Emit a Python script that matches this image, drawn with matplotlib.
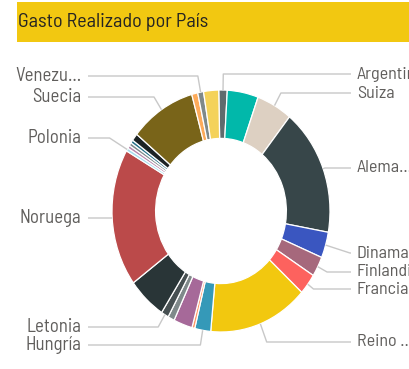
import matplotlib
matplotlib.use("Agg")
import numpy as np
import matplotlib.pyplot as plt

# Gasto por país (miles de €), en el orden en que se dibujan las porciones
paises = ['Argentina', 'Bélgica', 'Suiza', 'Alemania', 'Dinamarca', 'Finlandia',
          'Francia', 'Reino Unido', 'Hungría', 'Irlanda', 'Italia', 'Lituania',
          'Letonia', 'Luxemburgo', 'Noruega', 'Polonia', 'Portugal', 'Rumanía',
          'Eslovaquia', 'Eslovenia', 'Suecia', 'Austria', 'Venezuela', 'Chile']
gasto = [45, 165, 190, 610, 124, 96,
         100, 530, 85, 15, 100, 35,
         40, 205, 660, 15, 15, 15,
         15, 35, 350, 32, 31, 80]
colores = ['#5F6B6D', '#01B8AA', '#DDD0C2', '#374649', '#3A56C0', '#A6687C',
           '#FD625E', '#F2C80F', '#3599B8', '#FE9666', '#A66999', '#7F898A',
           '#475052', '#293537', '#BB4A4A', '#A4DDEE', '#B687AC', '#7F898A',
           '#28738A', '#1C2325', '#796419', '#FDAB5A', '#7F898A', '#F4D25A']

# etiquetas visibles: índice de porción -> (texto, lado, y de la etiqueta en px)
etiquetas = {
    0: ('Argentina', 'der', 74),
    2: ('Suiza', 'der', 93),
    3: ('Alema...', 'der', 168),
    4: ('Dinamarca', 'der', 253),
    5: ('Finlandia', 'der', 272),
    6: ('Francia', 'der', 289),
    7: ('Reino ...', 'der', 342),
    22: ('Venezu...', 'izq', 76),
    20: ('Suecia', 'izq', 97),
    15: ('Polonia', 'izq', 138),
    14: ('Noruega', 'izq', 218),
    12: ('Letonia', 'izq', 327),
    8: ('Hungría', 'izq', 345),
}

W, H = 409, 369
fig = plt.figure(figsize=(W / 100, H / 100), dpi=100)
fuente = ['Barlow Semi Condensed', 'DejaVu Sans']

# capa en píxeles para la cabecera, líneas guía y textos
capa = fig.add_axes([0, 0, 1, 1], zorder=2)
capa.set_xlim(0, W)
capa.set_ylim(H, 0)
capa.axis('off')
capa.patch.set_alpha(0)

capa.add_patch(plt.Rectangle((17, 2), W - 17, 40, color='#F2C811', lw=0))
capa.text(18, 22, 'Gasto Realizado por País', fontsize=14.5, color='#252423',
          va='center', ha='left', family=fuente)

# anillo: radio exterior 109 px en x y 121 px en y, centro en (221, 211)
cx, cy, rx, ry = 221, 211, 109, 121
ax = fig.add_axes([(cx - 1.1 * rx) / W, (H - cy - 1.1 * ry) / H,
                   2.2 * rx / W, 2.2 * ry / H], zorder=1)
cunas, _ = ax.pie(gasto, colors=colores, startangle=91.2, counterclock=False,
                  radius=1, wedgeprops=dict(width=0.4, edgecolor='white', linewidth=0.9))
ax.set_aspect('auto')
ax.set_xlim(-1.1, 1.1)
ax.set_ylim(-1.1, 1.1)
ax.axis('off')

fig.canvas.draw()
a_px = lambda p: (p[0], H - p[1])

for i, (texto, lado, ly) in etiquetas.items():
    c = cunas[i]
    ang = np.deg2rad((c.theta1 + c.theta2) / 2)
    p0 = a_px(ax.transData.transform((np.cos(ang), np.sin(ang))))
    p1 = a_px(ax.transData.transform((1.08 * np.cos(ang), 1.08 * np.sin(ang))))
    d = np.subtract(p1, p0)
    # prolonga el tramo radial hasta la altura de la etiqueta
    if abs(d[1]) > 1e-3 and (ly - p0[1]) / d[1] > 0:
        t = min((ly - p0[1]) / d[1], 4.0)
        codo = (p0[0] + t * d[0], ly)
    else:
        codo = (p0[0], ly)
    x_fin = 351 if lado == 'der' else 88
    capa.plot([p0[0], codo[0], x_fin], [p0[1], codo[1], ly],
              color='#C8C8C8', lw=1, solid_capstyle='butt')
    if lado == 'der':
        capa.text(357, ly, texto, ha='left', va='center', fontsize=13,
                  color='#605E5C', family=fuente)
    else:
        capa.text(81, ly, texto, ha='right', va='center', fontsize=13.5,
                  color='#605E5C', family=fuente)

fig.savefig('out.png', dpi=100)
